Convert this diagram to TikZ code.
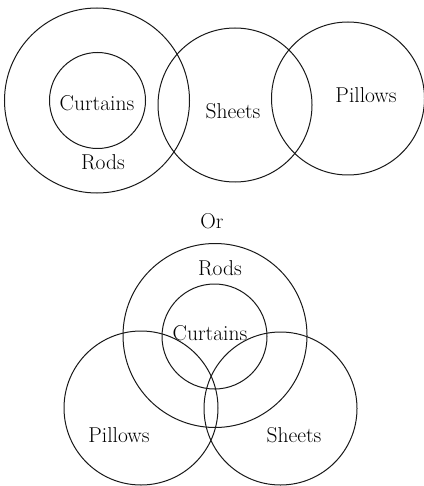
\documentclass[tikz,border=0pt]{standalone}
\usepackage{fontspec}
\begin{document}
\begin{tikzpicture}[x=1pt,y=-1pt,
  setc/.style={draw=black!90,line width=1pt,circle,inner sep=0pt,minimum size=#1},
  lbl/.style={font=\rmfamily\fontsize{21.5}{24}\selectfont,inner sep=0pt,text=black}]
\useasboundingbox (0,0) rectangle (423,486);
% top diagram
\node[setc=185pt] (rodsA) at (97,100.5) {};
\node[setc=96pt] (curtA) at (97.5,100.5) {};
\node[setc=154pt] (sheetsA) at (235,105) {};
\node[setc=153pt] (pillA) at (348,98.5) {};
\node[lbl] (tcurtA) at (97,103.5) {Curtains};
\node[lbl] (trodsA) at (103,162.5) {Rods};
\node[lbl] (tsheetsA) at (233,111) {Sheets};
\node[lbl] (tpillA) at (366,95) {Pillows};
% or
\node[lbl] (tor) at (212,221.5) {Or};
% bottom diagram
\node[setc=184pt] (rodsB) at (215,335.5) {};
\node[setc=105pt] (curtB) at (214.5,336.5) {};
\node[setc=154pt] (pillB) at (141,408) {};
\node[setc=153pt] (sheetsB) at (280.5,408.5) {};
\node[lbl] (trodsB) at (220,268) {Rods};
\node[lbl] (tcurtB) at (210,333) {Curtains};
\node[lbl] (tpillB) at (119,435) {Pillows};
\node[lbl] (tsheetsB) at (294,435) {Sheets};
\end{tikzpicture}
\end{document}
